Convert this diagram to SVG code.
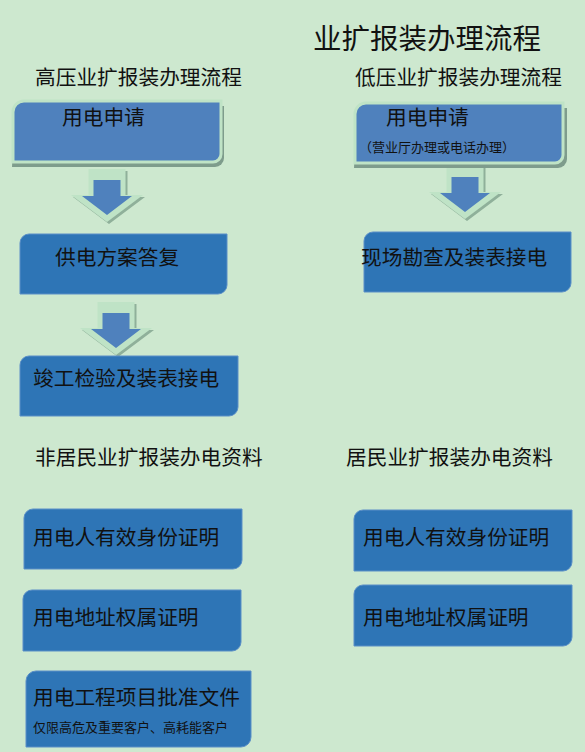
<svg xmlns="http://www.w3.org/2000/svg" xmlns:xlink="http://www.w3.org/1999/xlink" width="585" height="752" viewBox="0 0 585 752">
<style>
text{font-family:"Noto Sans CJK SC","Noto Sans CJK TC",sans-serif;fill:#111;}
.h{font-size:20.7px;}
.t{font-size:28.5px;}
.s{font-size:13px;}
.box{fill:#2E75B6;stroke:#5B8FC7;stroke-width:1;}
.req{fill:#4F81BD;stroke:#BFE3C6;stroke-width:3;}
.reqsh{fill:#7E9C8C;}
</style>
<defs>
<g id="arrow">
<path d="M-16.5,2 H20.5 V28 H38 L2,55 L-34,28 H-16.5 Z" fill="#8FB09A"/>
<path d="M-18.5,0 H18.5 V26 H36 L0,53 L-36,26 H-18.5 Z" fill="#BFE3C6"/>
<path d="M-13.5,11 H13.5 V27 H25 L0,46 L-25,27 H-13.5 Z" fill="#4F81BD"/>
</g>
</defs>
<rect width="585" height="752" fill="#CDE8CF"/>

<g id="titles">
<text class="t" x="313" y="49">业扩报装办理流程</text>
<text class="h" x="35" y="85">高压业扩报装办理流程</text>
<text class="h" x="355" y="85">低压业扩报装办理流程</text>
<text class="h" x="35" y="465">非居民业扩报装办电资料</text>
<text class="h" x="346" y="465">居民业扩报装办电资料</text>
</g>

<g id="connectors">
<use xlink:href="#arrow" transform="translate(107,169)"/>
<use xlink:href="#arrow" transform="translate(116,302)"/>
<use xlink:href="#arrow" transform="translate(465,166)"/>
</g>

<g id="hv-apply">
<path class="reqsh" d="M15,106 H224 V158 A9,9 0 0 1 215,167 H12 Z"/>
<path class="req" d="M24,101 H221 V154 A8,8 0 0 1 213,162 H13 V112 A11,11 0 0 1 24,101 Z"/>
<text class="h" x="62" y="125">用电申请</text>
</g>

<g id="lv-apply">
<path class="reqsh" d="M357,108 H567 V159 A9,9 0 0 1 558,168 H354 Z"/>
<path class="req" d="M366,103 H563 V155 A8,8 0 0 1 555,163 H355 V114 A11,11 0 0 1 366,103 Z"/>
<text class="h" x="386" y="125">用电申请</text>
<text class="s" x="359" y="152">（营业厅办理或电话办理）</text>
</g>

<g id="hv-plan">
<path class="box" d="M29,234 H227 V285 A9,9 0 0 1 218,294 H20 V243 A9,9 0 0 1 29,234 Z"/>
<text class="h" x="55" y="265">供电方案答复</text>
</g>

<g id="hv-complete">
<path class="box" d="M29,356 H238 V407 A9,9 0 0 1 229,416 H20 V365 A9,9 0 0 1 29,356 Z"/>
<text class="h" x="33" y="386">竣工检验及装表接电</text>
</g>

<g id="lv-survey">
<path class="box" d="M373,232 H571 V283 A9,9 0 0 1 562,292 H364 V241 A9,9 0 0 1 373,232 Z"/>
<text class="h" x="361" y="265">现场勘查及装表接电</text>
</g>

<g id="nr-id">
<path class="box" d="M33,509 H242 V560 A9,9 0 0 1 233,569 H24 V518 A9,9 0 0 1 33,509 Z"/>
<text class="h" x="33" y="545">用电人有效身份证明</text>
</g>

<g id="nr-addr">
<path class="box" d="M32,590 H241 V642 A9,9 0 0 1 232,651 H23 V599 A9,9 0 0 1 32,590 Z"/>
<text class="h" x="33" y="625">用电地址权属证明</text>
</g>

<g id="nr-project">
<path class="box" d="M36,671 H251 V737 A10,10 0 0 1 241,747 H26 V681 A10,10 0 0 1 36,671 Z"/>
<text class="h" x="33" y="705">用电工程项目批准文件</text>
<text class="s" x="33" y="732">仅限高危及重要客户、高耗能客户</text>
</g>

<g id="r-id">
<path class="box" d="M363,510 H572 V562 A9,9 0 0 1 563,571 H354 V519 A9,9 0 0 1 363,510 Z"/>
<text class="h" x="363" y="545">用电人有效身份证明</text>
</g>

<g id="r-addr">
<path class="box" d="M363,585 H572 V637 A9,9 0 0 1 563,646 H354 V594 A9,9 0 0 1 363,585 Z"/>
<text class="h" x="363" y="625">用电地址权属证明</text>
</g>
</svg>
